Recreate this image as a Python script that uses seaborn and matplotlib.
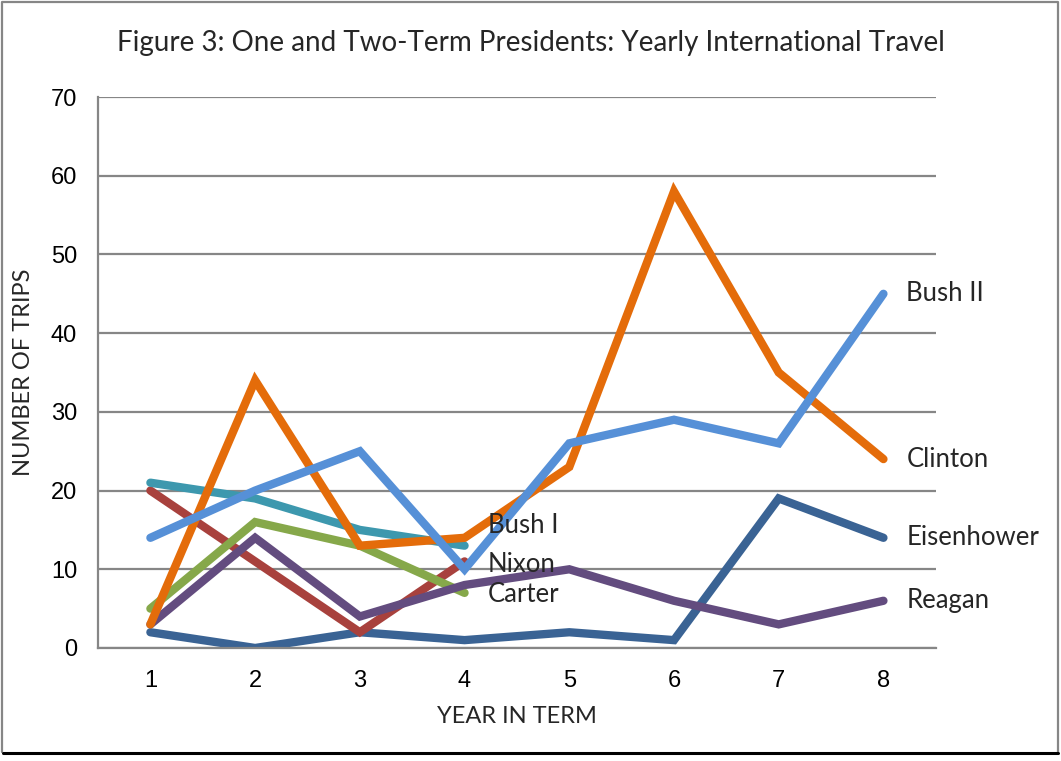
import pandas as pd
import matplotlib.pyplot as plt
import seaborn as sns
from matplotlib.lines import Line2D

# datos
anios = [1, 2, 3, 4, 5, 6, 7, 8]
eisenhower = [2, 0, 2, 1, 2, 1, 19, 14]
nixon = [20, 11, 2, 11]
carter = [5, 16, 13, 7]
reagan = [3, 14, 4, 8, 10, 6, 3, 6]
bush1 = [21, 19, 15, 13]
clinton = [3, 34, 13, 14, 23, 58, 35, 24]
bush2 = [14, 20, 25, 10, 26, 29, 26, 45]

presidentes = ["Eisenhower", "Nixon", "Carter", "Reagan", "Bush I", "Clinton", "Bush II"]
series = [eisenhower, nixon, carter, reagan, bush1, clinton, bush2]
colores = ["#3A6394", "#A8413D", "#86A84A", "#634C7F", "#3D98AE", "#E46C0A", "#5690D7"]

filas = []
for nombre, valores in zip(presidentes, series):
    for a, v in zip(anios, valores):
        filas.append({"Presidente": nombre, "Anio": a, "Viajes": v})
df = pd.DataFrame(filas)

sns.set_style("white")
plt.rcParams['font.family'] = ['Liberation Sans', 'DejaVu Sans']
letra = ['Lato', 'Liberation Sans', 'DejaVu Sans']

fig = plt.figure(figsize=(10.61, 7.61), dpi=100)
ax = fig.add_axes([0.0924, 0.1485, 0.7896, 0.724])

sns.lineplot(data=df, x="Anio", y="Viajes", hue="Presidente", hue_order=presidentes,
             palette=colores, linewidth=6, legend=False, ax=ax, sort=False)
for l in ax.lines:
    l.set_solid_joinstyle("miter")
    l.set_solid_capstyle("round")

ax.set_xlim(0.5, 8.5)
ax.set_ylim(0, 70)
ax.set_yticks(range(0, 71, 10))
ax.set_xticks(anios)
ax.set_xticks([1.5, 2.5, 3.5, 4.5, 5.5, 6.5, 7.5], minor=True)
ax.yaxis.grid(True, color="#868686", linewidth=1.6)
ax.set_axisbelow(True)
for s in ["top", "right"]:
    ax.spines[s].set_visible(False)
for s in ["left", "bottom"]:
    ax.spines[s].set_color("#868686")
    ax.spines[s].set_linewidth(1.6)
ax.tick_params(axis="x", which="major", length=0, labelsize=17, pad=16, labelcolor="black")
ax.tick_params(axis="x", which="minor", length=7, width=1.6, color="#868686")
ax.tick_params(axis="y", length=7, width=1.6, color="#868686", labelsize=17, pad=8, labelcolor="black")
ax.set_xlabel("YEAR IN TERM", fontsize=17, labelpad=10, family=letra)
ax.set_ylabel("NUMBER OF TRIPS", fontsize=17, labelpad=12, family=letra)

# etiquetas de las series
ultimos = {"Bush II": 45, "Clinton": 24, "Eisenhower": 14, "Reagan": 6}
for nombre, v in ultimos.items():
    ax.text(8.22, v, nombre, fontsize=18.5, va="center", ha="left", clip_on=False, family=letra)
ax.text(4.22, 15.5, "Bush I", fontsize=18.5, va="center", ha="left", family=letra)
ax.text(4.22, 10.6, "Nixon", fontsize=18.5, va="center", ha="left", family=letra)
ax.text(4.22, 6.8, "Carter", fontsize=18.5, va="center", ha="left", family=letra)

fig.text(0.5, 0.943, "Figure 3: One and Two-Term Presidents: Yearly International Travel",
         ha="center", va="center", fontsize=20, family=letra)

# marco del grafico
fig.add_artist(Line2D([0.002, 0.002, 0.997, 0.997], [0.012, 0.997, 0.997, 0.012],
                      transform=fig.transFigure, color="#868686", linewidth=1.6))
fig.add_artist(Line2D([0.003, 0.997], [0.01, 0.01], transform=fig.transFigure,
                      color="black", linewidth=2.2))

fig.savefig("out.png", dpi=100)
